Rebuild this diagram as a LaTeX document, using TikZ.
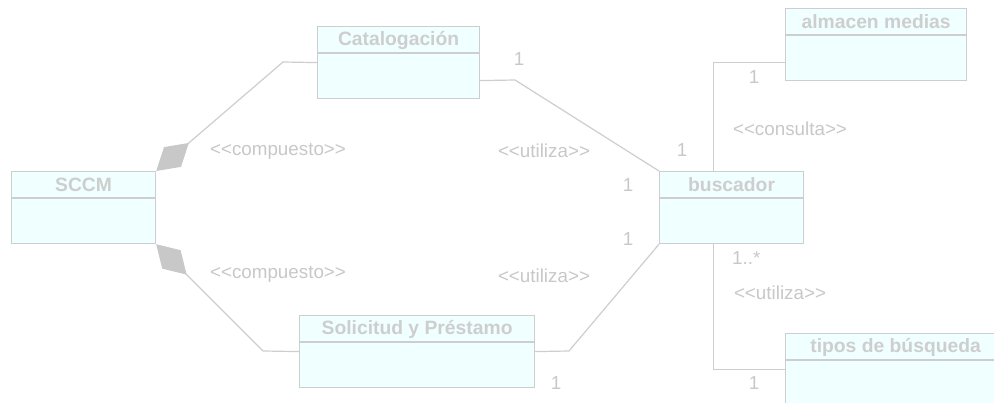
\documentclass[tikz,border=0pt]{standalone}
\usepackage{fontspec}
\setmainfont{Liberation Sans}
\usetikzlibrary{arrows.meta}
\definecolor{lngray}{RGB}{206,206,206}
\definecolor{txgray}{RGB}{200,200,200}
\definecolor{ttgray}{RGB}{206,206,206}
\definecolor{dmgray}{RGB}{200,200,200}
\definecolor{boxfill}{RGB}{240,255,255}
\newcommand{\dlt}{<\kern0pt<}
\newcommand{\dgt}{>\kern0pt>}
\tikzset{
  classbox/.style={draw=lngray, fill=boxfill, line width=1.2pt, rectangle, inner sep=0pt, anchor=north west},
  classtitle/.style={font=\fontsize{19.3}{22}\selectfont\bfseries, text=ttgray, inner sep=0pt},
  conn/.style={draw=lngray, line width=1.2pt},
  lbl/.style={font=\fontsize{18.8}{22}\selectfont, text=txgray, inner sep=0pt},
  compo/.style={{Diamond[length=43pt,width=26pt,fill=dmgray,color=dmgray]}-},
}
\newcommand{\umlclass}[6]{%
  \node[classbox, minimum width=#4pt, minimum height=#5pt] (#1) at (#2,#3) {};
  \draw[conn] ([yshift=-27pt]#1.north west) -- ([yshift=-27pt]#1.north east);
  \node[classtitle] (#1t) at ([yshift=-14pt]#1.north) {#6};
}
\begin{document}
\begin{tikzpicture}[x=1pt,y=-1pt]
\useasboundingbox (0,0) rectangle (994,403);
\fill[white] (0,0) rectangle (994,403);
\begin{scope}
\clip (0,0) rectangle (994,403);
% classes
\umlclass{sccm}{11}{171}{144}{72}{SCCM}
\umlclass{catalog}{317}{26}{162}{72}{Catalogación}
\umlclass{busc}{659}{171}{144}{72}{buscador}
\umlclass{alm}{785}{8}{181}{72}{almacen medias}
\umlclass{tipos}{785}{333}{220}{72}{tipos de búsqueda}
\umlclass{solic}{299}{315}{235}{72}{Solicitud y Préstamo}
% bends
\coordinate (c1) at (283,62);
\coordinate (c2) at (263,351);
\coordinate (c3) at (515,80);
\coordinate (c4) at (569,351);
% connectors
\draw[conn, compo] (sccm.north east) -- (c1) -- (catalog.west);
\draw[conn, compo] (sccm.south east) -- (c2) -- (solic.west);
\draw[conn] ([yshift=-18pt]catalog.east) -- (c3) -- (busc.north west);
\draw[conn] (solic.east) -- (c4) -- (busc.south west);
\draw[conn] ([xshift=-18pt]busc.north) |- ([yshift=-18pt]alm.west);
\draw[conn] ([xshift=-18pt]busc.south) |- (tipos.west);
\end{scope}
% labels
\node[lbl] (l1) at (278,151) {\dlt compuesto\dgt};
\node[lbl] (l2) at (278,274) {\dlt compuesto\dgt};
\node[lbl] (l3) at (544,151) {\dlt utiliza\dgt};
\node[lbl] (l4) at (544,276) {\dlt utiliza\dgt};
\node[lbl] (m1) at (519,59) {1};
\node[lbl] (m2) at (682,150) {1};
\node[lbl] (m3) at (628,185) {1};
\node[lbl] (m4) at (628,239) {1};
\node[lbl] (m5) at (556,383) {1};
\node[lbl] (m6) at (754,77) {1};
\node[lbl] (m7) at (754,383) {1};
\node[lbl] (l5) at (790,129) {\dlt consulta\dgt};
\node[lbl, anchor=west] (m8) at (732,258) {1..*};
\node[lbl] (l6) at (780,293) {\dlt utiliza\dgt};
\end{tikzpicture}
\end{document}
